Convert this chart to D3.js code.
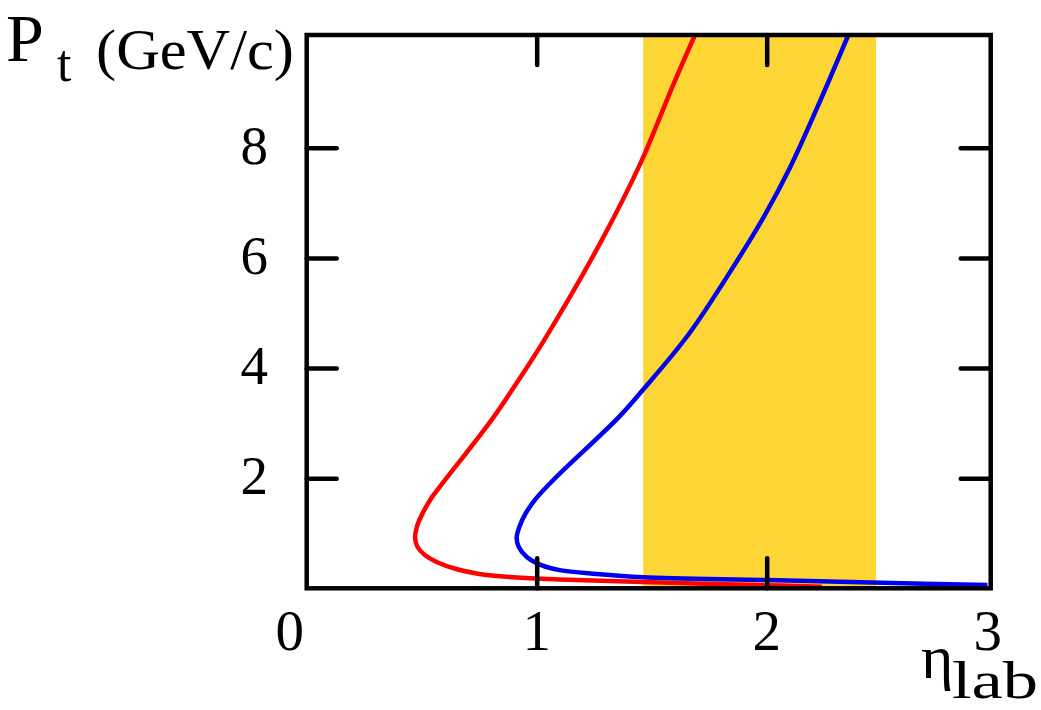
<!DOCTYPE html>
<html>
<head>
<meta charset="utf-8">
<script src="https://cdn.jsdelivr.net/npm/d3@7"></script>
<style>
  html, body { margin: 0; padding: 0; background: #fff; }
  svg { display: block; font-family: "Liberation Serif", "Times New Roman", Times, serif; }
</style>
</head>
<body>
<div id="chart"></div>
<script>
// acceptance band in eta
const bandRange = [1.463, 2.475];

// red curve (eta, pt), bottom tail to top
const redEta = [2.24, 1.95, 1.5, 1.1, 0.9, 0.75, 0.65, 0.57, 0.515, 0.482, 0.471, 0.478, 0.49, 0.536, 0.58, 0.804, 0.913, 1.03, 1.276, 1.449, 1.594, 1.688];
const redPt  = [0.03, 0.06, 0.11, 0.16, 0.2, 0.26, 0.35, 0.47, 0.6, 0.75, 0.92, 1.1, 1.24, 1.6, 1.85, 3.06, 3.73, 4.49, 6.27, 7.7, 9.15, 10.05];

// blue curve (eta, pt)
const blueEta = [2.96, 2.5, 2.0, 1.463, 1.26, 1.1, 1.02, 0.957, 0.922, 0.913, 0.925, 0.952, 0.995, 1.08, 1.355, 1.463, 1.66, 1.852, 1.985, 2.101, 2.232, 2.355];
const bluePt  = [0.06, 0.1, 0.15, 0.2, 0.26, 0.33, 0.42, 0.57, 0.75, 0.92, 1.12, 1.36, 1.62, 2.0, 3.1, 3.61, 4.61, 5.82, 6.73, 7.64, 8.85, 10.05];

const xTicks = [1, 2];
const xLabels = [0, 1, 2, 3];
const yTicks = [2, 4, 6, 8];

const width = 1041, height = 710;
const plot = { left: 306.7, right: 990.7, top: 35, bottom: 588.3 };

const x = d3.scaleLinear().domain([0, 2.974]).range([plot.left, plot.right]);
const y = d3.scaleLinear().domain([0, 10.05]).range([plot.bottom, plot.top]);

const svg = d3.select("#chart").append("svg")
    .attr("width", width)
    .attr("height", height);

svg.append("defs").append("clipPath").attr("id", "plot")
    .append("rect")
    .attr("x", plot.left).attr("y", plot.top)
    .attr("width", plot.right - plot.left).attr("height", plot.bottom - plot.top);

// yellow band
svg.append("rect")
    .attr("x", x(bandRange[0]))
    .attr("y", plot.top)
    .attr("width", x(bandRange[1]) - x(bandRange[0]))
    .attr("height", plot.bottom - plot.top)
    .attr("fill", "#fdd535");

// curves
const line = d3.line()
    .x(d => x(d[0]))
    .y(d => y(d[1]))
    .curve(d3.curveCatmullRom.alpha(0.5));

const series = [
    { eta: redEta, pt: redPt, color: "#ff0000" },
    { eta: blueEta, pt: bluePt, color: "#0000ee" }
];

const curves = svg.append("g").attr("clip-path", "url(#plot)");
series.forEach(s => {
    const pts = s.eta.map((e, i) => [e, s.pt[i]]);
    curves.append("path")
        .attr("d", line(pts))
        .attr("fill", "none")
        .attr("stroke", s.color)
        .attr("stroke-width", 4.5)
        .attr("stroke-linejoin", "round");
});

// inward ticks on all four sides
const tickLen = 30;
const styleAxis = g => {
    g.select(".domain").remove();
    g.selectAll(".tick line")
        .attr("stroke", "#000")
        .attr("stroke-width", 4.5)
        .attr("stroke-linecap", "round");
    g.selectAll(".tick text").remove();
};

svg.append("g")
    .attr("transform", `translate(0,${plot.bottom})`)
    .call(d3.axisBottom(x).tickValues(xTicks).tickSize(-tickLen))
    .call(styleAxis);
svg.append("g")
    .attr("transform", `translate(0,${plot.top})`)
    .call(d3.axisTop(x).tickValues(xTicks).tickSize(-tickLen))
    .call(styleAxis);
svg.append("g")
    .attr("transform", `translate(${plot.left},0)`)
    .call(d3.axisLeft(y).tickValues(yTicks).tickSize(-tickLen))
    .call(styleAxis);
svg.append("g")
    .attr("transform", `translate(${plot.right},0)`)
    .call(d3.axisRight(y).tickValues(yTicks).tickSize(-tickLen))
    .call(styleAxis);

// frame
svg.append("rect")
    .attr("x", plot.left).attr("y", plot.top)
    .attr("width", plot.right - plot.left).attr("height", plot.bottom - plot.top)
    .attr("fill", "none")
    .attr("stroke", "#000")
    .attr("stroke-width", 4.5);

// tick labels
const xLabelShift = { 0: -17, 3: -9 };
svg.append("g").selectAll("text")
    .data(xLabels)
    .join("text")
    .attr("x", d => x(d) + (xLabelShift[d] || 0))
    .attr("y", 650)
    .attr("text-anchor", "middle")
    .attr("font-size", 57)
    .text(d => d);

svg.append("g").selectAll("text")
    .data(yTicks)
    .join("text")
    .attr("x", 268)
    .attr("y", d => y(d) + 16)
    .attr("text-anchor", "end")
    .attr("font-size", 55)
    .text(d => d);

// axis titles
svg.append("text")
    .attr("x", 6).attr("y", 61)
    .attr("font-size", 68)
    .text("P");
svg.append("text")
    .attr("x", 57).attr("y", 81)
    .attr("font-size", 52)
    .text("t");
svg.append("text")
    .attr("x", 96).attr("y", 69)
    .attr("font-size", 56)
    .attr("textLength", 198)
    .attr("lengthAdjust", "spacingAndGlyphs")
    .text("(GeV/c)");

svg.append("text")
    .attr("x", 921).attr("y", 678)
    .attr("font-size", 62)
    .text("η");
svg.append("text")
    .attr("x", 952).attr("y", 698)
    .attr("font-size", 53)
    .attr("textLength", 86)
    .attr("lengthAdjust", "spacingAndGlyphs")
    .text("lab");
</script>
</body>
</html>
